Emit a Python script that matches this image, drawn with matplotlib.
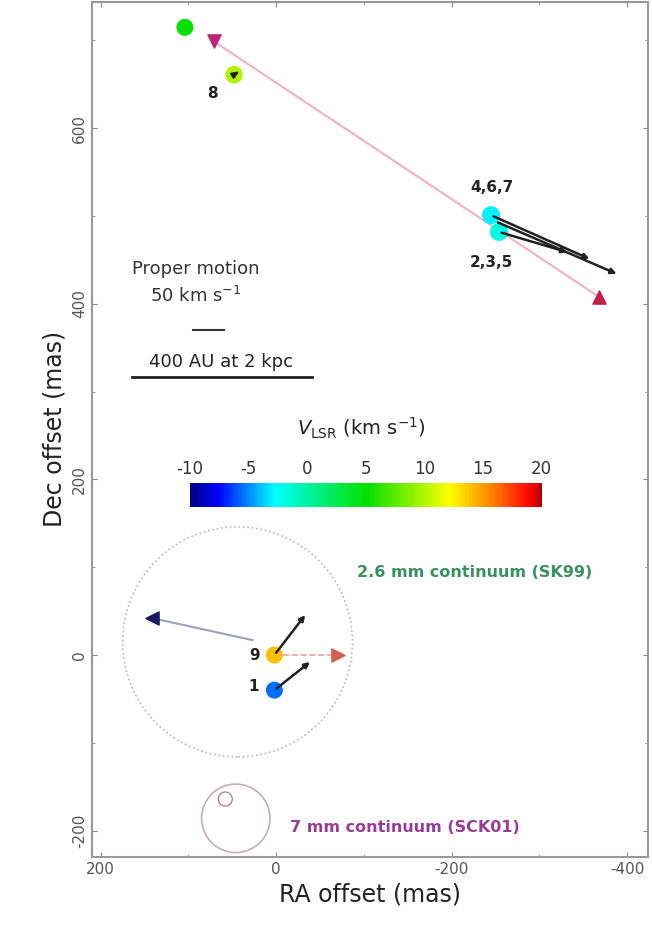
import numpy as np
import matplotlib
matplotlib.use('Agg')
import matplotlib.pyplot as plt
from matplotlib.patches import Circle
from matplotlib.ticker import MultipleLocator
from matplotlib.colors import LinearSegmentedColormap

plt.rcParams['axes.unicode_minus'] = False

# maser spots (RA offset, Dec offset, V_LSR)
spot_ra = [104, 48, -245, -254, 2, 2]
spot_dec = [715, 661, 501, 482, 0, -40]
spot_v = [5, 10, -3, -2, 14, -5.5]
spot_size = [150, 160, 170, 170, 150, 150]

# labels for spots
lab_text = ['8', '4,6,7', '2,3,5', '9', '1']
lab_ra = [73, -246, -245, 25, 26]
lab_dec = [640, 532, 447, 0, -36]

# proper-motion arrows (start, end)
pm_start = [(-250, 494), (-254, 482), (-245, 501), (2, 0), (2, -40), (48, 661)]
pm_end = [(-391, 433), (-335, 458), (-360, 450), (-35, 48), (-41, -6), (40, 666)]

# other features (triangles)
tri_ra = [71, -368, 141, -70]
tri_dec = [699, 408, 42, 0]
tri_mark = ['v', '^', '<', '>']
tri_col = ['#c0207a', '#c0204a', '#1a1a60', '#d06050']

# continuum sources
c26_center = (44, 15)
c26_radius = 131
c7_center = (46, -186)
c7_radius = 39
c7_small = (58, -164)

fig = plt.figure(figsize=(6.52, 9.33), dpi=100)
ax = fig.add_axes([0.141, 0.0815, 0.853, 0.9165])
cmap = LinearSegmentedColormap.from_list('vlsr', [
    (0.0, '#000080'), (0.08, '#0000ff'), (0.24, '#00ffff'), (0.5, '#00e000'),
    (0.74, '#ffff00'), (0.86, '#ff8000'), (0.97, '#ff0000'), (1.0, '#b00000')])
norm = matplotlib.colors.Normalize(vmin=-10, vmax=20)

# connecting lines
ax.plot([tri_ra[0], tri_ra[1]], [tri_dec[0], tri_dec[1]], color='#f0b0c8', lw=1.5, zorder=1)
ax.plot([27, tri_ra[2]], [17, tri_dec[2]], color='#a0a0b8', lw=1.5, zorder=1)
ax.plot([spot_ra[4], tri_ra[3]], [spot_dec[4], tri_dec[3]], color='#f0a0a0', lw=1.2, ls='--', zorder=1)

ax.add_patch(Circle(c26_center, c26_radius, fill=False, ec='#b8b8b8', lw=1.2, ls=':', zorder=0))
ax.add_patch(Circle(c7_center, c7_radius, fill=False, ec='#c0b0b8', lw=1.2, zorder=0))
ax.add_patch(Circle(c7_small, 8, fill=False, ec='#b08890', lw=1.0, zorder=0))

ax.scatter(spot_ra, spot_dec, c=spot_v, cmap=cmap, norm=norm, s=spot_size, edgecolors='none', zorder=3)
for m, x, y, c in zip(tri_mark, tri_ra, tri_dec, tri_col):
    ax.scatter(x, y, marker=m, color=c, s=90, zorder=3)

for (x0, y0), (x1, y1) in zip(pm_start, pm_end):
    ax.annotate('', xy=(x1, y1), xytext=(x0, y0),
                arrowprops=dict(arrowstyle='-|>', color='#202020', lw=1.8, mutation_scale=8),
                zorder=4)

for t, x, y in zip(lab_text, lab_ra, lab_dec):
    ax.text(x, y, t, fontsize=11, fontweight='bold', color='#222222', ha='center', va='center', zorder=5)

# scale bars
ax.text(92, 440, 'Proper motion', fontsize=13, color='#333333', ha='center', va='center')
ax.text(92, 409, r'50 km s$^{-1}$', fontsize=13, color='#333333', ha='center', va='center')
ax.plot([95, 59], [370, 370], color='#333333', lw=1.5)
ax.text(63, 334, '400 AU at 2 kpc', fontsize=13, color='#222222', ha='center', va='center')
ax.plot([164, -41], [317, 317], color='#222222', lw=2)

ax.text(-226, 94, '2.6 mm continuum (SK99)', fontsize=11.5, fontweight='bold', color='#3a9060', ha='center', va='center')
ax.text(-147, -197, '7 mm continuum (SCK01)', fontsize=11.5, fontweight='bold', color='#9a3a9a', ha='center', va='center')

ax.set_xlim(210, -424)
ax.set_ylim(-230, 744)
ax.xaxis.set_major_locator(MultipleLocator(200))
ax.xaxis.set_minor_locator(MultipleLocator(100))
ax.yaxis.set_major_locator(MultipleLocator(200))
ax.yaxis.set_minor_locator(MultipleLocator(100))
ax.tick_params(which='both', direction='in', top=True, right=True, colors='#888888', labelcolor='#555555', labelsize=11)
ax.tick_params(axis='y', labelrotation=90)
for t in ax.get_yticklabels():
    t.set_va('center')
for s in ax.spines.values():
    s.set_color('#999999')
    s.set_linewidth(1.5)
ax.set_xlabel('RA offset (mas)', fontsize=17, color='#222222')
ax.set_ylabel('Dec offset (mas)', fontsize=17, color='#222222')

# colorbar
cax = fig.add_axes([0.291, 0.4566, 0.54, 0.0257])
cb = fig.colorbar(matplotlib.cm.ScalarMappable(norm=norm, cmap=cmap), cax=cax, orientation='horizontal')
cb.set_ticks([-10, -5, 0, 5, 10, 15, 20])
cax.xaxis.set_ticks_position('top')
cax.tick_params(length=0, labelsize=12, labelcolor='#333333')
cb.outline.set_visible(False)
fig.text(0.555, 0.541, r'$V_{\rm LSR}$ (km s$^{-1}$)', fontsize=14, ha='center', va='center', color='#222222')

fig.savefig('out.png', dpi=100)
